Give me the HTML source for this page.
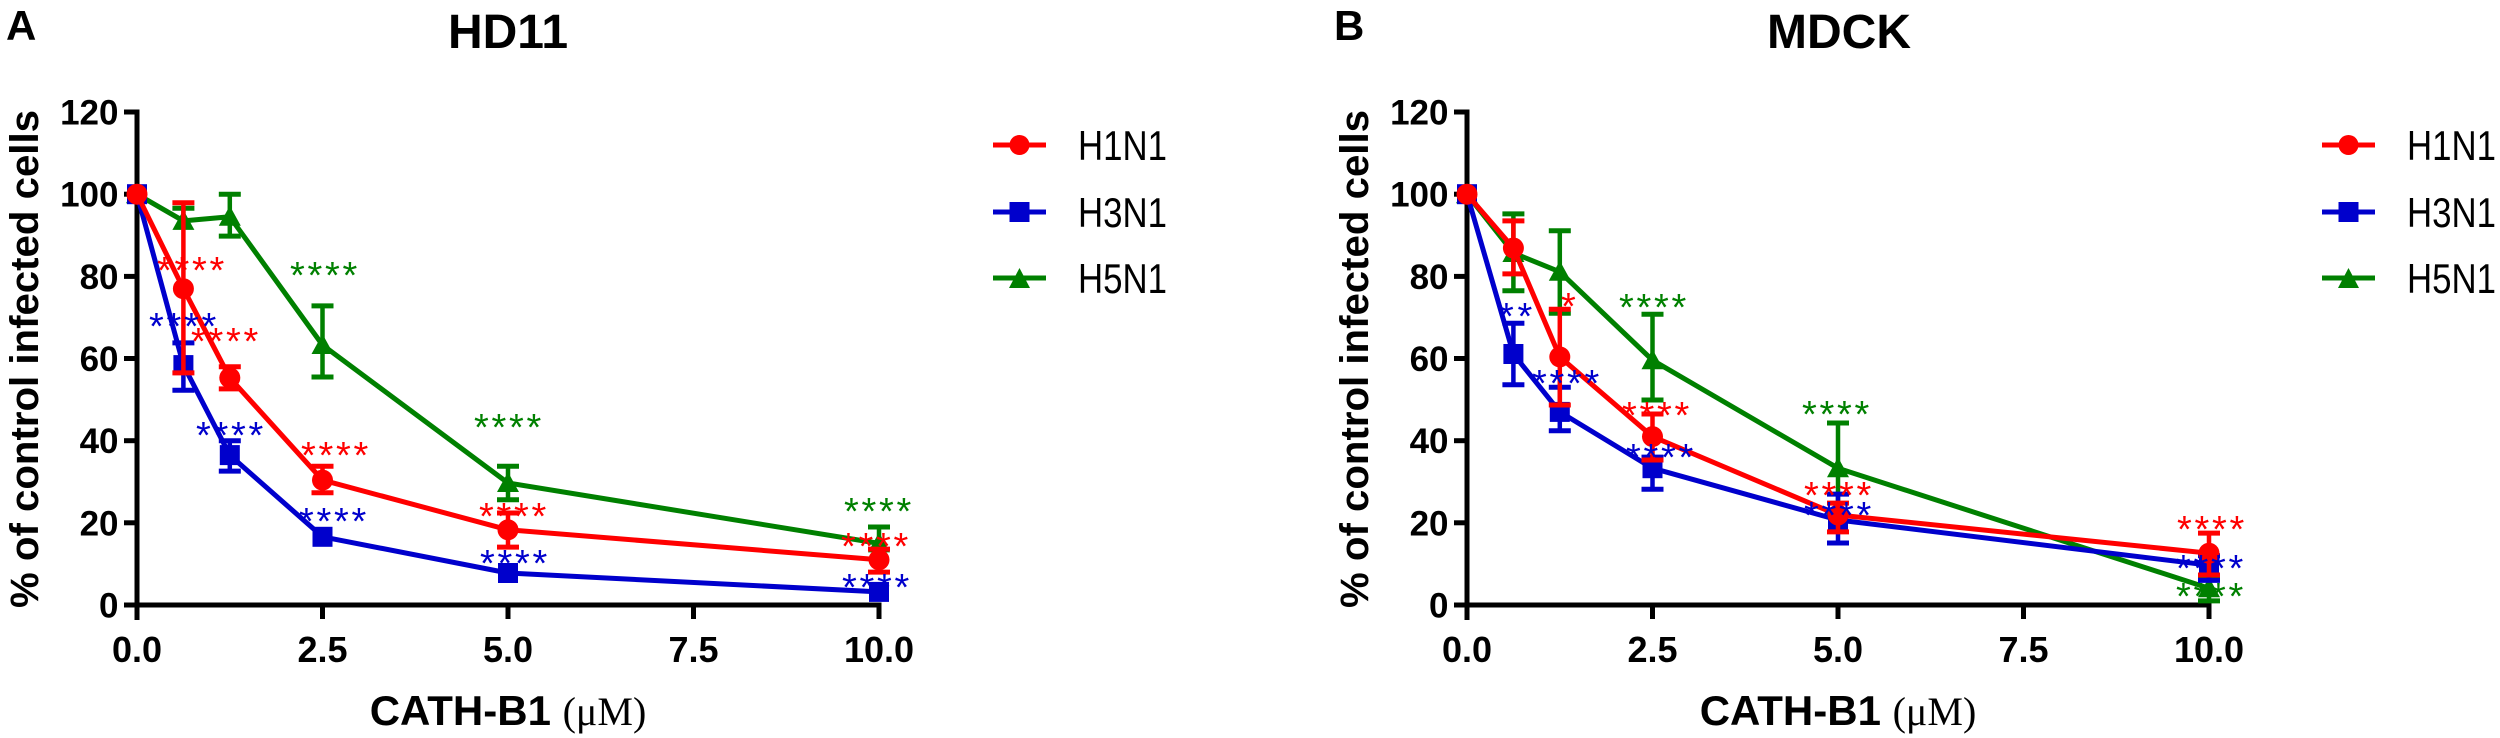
<!DOCTYPE html>
<html>
<head>
<meta charset="utf-8">
<style>
  html, body { margin: 0; padding: 0; background: #ffffff; }
  svg { display: block; }
  .tl { font-family: "Liberation Sans", Arial, sans-serif; font-weight: bold; font-size: 35px; fill: #000; }
  .xl { font-family: "Liberation Sans", Arial, sans-serif; font-weight: bold; font-size: 36px; fill: #000; }
  .ast { font-family: "Liberation Sans", Arial, sans-serif; font-size: 38px; letter-spacing: 2.7px; }
  .leg { font-family: "Liberation Sans", Arial, sans-serif; font-size: 42px; fill: #000; }
  .ttl { font-family: "Liberation Sans", Arial, sans-serif; font-weight: bold; font-size: 48px; fill: #000; }
  .pl { font-family: "Liberation Sans", Arial, sans-serif; font-weight: bold; font-size: 42px; fill: #000; }
  .yt { font-family: "Liberation Sans", Arial, sans-serif; font-weight: bold; font-size: 40px; fill: #000; }
</style>
</head>
<body>
<svg width="2500" height="738" viewBox="0 0 2500 738" xmlns="http://www.w3.org/2000/svg">
<rect x="0" y="0" width="2500" height="738" fill="#ffffff"/>

<!-- ================= PANEL A ================= -->
<text class="pl" x="6" y="40">A</text>
<text class="ttl" x="508" y="48" text-anchor="middle">HD11</text>

<!-- axes -->
<g stroke="#000" stroke-width="5" fill="none">
  <line x1="137" y1="109.5" x2="137" y2="620"/>
  <line x1="124" y1="605" x2="881.5" y2="605"/>
  <line x1="124" y1="522.8" x2="137" y2="522.8"/>
  <line x1="124" y1="440.7" x2="137" y2="440.7"/>
  <line x1="124" y1="358.5" x2="137" y2="358.5"/>
  <line x1="124" y1="276.4" x2="137" y2="276.4"/>
  <line x1="124" y1="194.2" x2="137" y2="194.2"/>
  <line x1="124" y1="112" x2="137" y2="112"/>
  <line x1="322.5" y1="605" x2="322.5" y2="619"/>
  <line x1="508" y1="605" x2="508" y2="619"/>
  <line x1="693.5" y1="605" x2="693.5" y2="619"/>
  <line x1="879" y1="605" x2="879" y2="619"/>
</g>
<g class="tl" text-anchor="end">
  <text x="118.5" y="617.5">0</text>
  <text x="118.5" y="535.3">20</text>
  <text x="118.5" y="453.2">40</text>
  <text x="118.5" y="371">60</text>
  <text x="118.5" y="288.9">80</text>
  <text x="118.5" y="206.7">100</text>
  <text x="118.5" y="124.5">120</text>
</g>
<g class="xl" text-anchor="middle">
  <text x="137" y="662">0.0</text>
  <text x="322.5" y="662">2.5</text>
  <text x="508" y="662">5.0</text>
  <text x="693.5" y="662">7.5</text>
  <text x="879" y="662">10.0</text>
</g>
<text x="508" y="725" text-anchor="middle"><tspan font-family="Liberation Sans, Arial, sans-serif" font-weight="bold" font-size="42">CATH-B1 </tspan><tspan font-family="Liberation Serif, Times New Roman, serif" font-size="40">(μM)</tspan></text>
<text class="yt" transform="translate(38,359) rotate(-90)" text-anchor="middle" textLength="498" lengthAdjust="spacingAndGlyphs">% of control infected cells</text>

<!-- green H5N1 -->
<g stroke="#008000" fill="none" stroke-width="5">
  <polyline stroke-linejoin="round" points="137,194.2 183.4,220.9 229.8,216.8 322.5,345 508,483 879,543.4"/>
  <path stroke-width="4.5" d="M183.4,229.1V208.2 M229.8,236.1V194.2 M322.5,377V305.9 M508,499.8V466.2 M879,559.8V527"/>
  <path d="M172.4,208.2h22 M218.8,236.1h22 M218.8,194.2h22 M311.5,377h22 M311.5,305.9h22 M497,499.8h22 M497,466.2h22 M868,527h22"/>
</g>
<g fill="#008000">
  <polygon points="137,183.2 126,203.2 148,203.2"/>
  <polygon points="183.4,209.9 172.4,229.9 194.4,229.9"/>
  <polygon points="229.8,205.8 218.8,225.8 240.8,225.8"/>
  <polygon points="322.5,334 311.5,354 333.5,354"/>
  <polygon points="508,472 497,492 519,492"/>
  <polygon points="879,532.4 868,552.4 890,552.4"/>
</g>

<!-- blue H3N1 -->
<g stroke="#0000CC" fill="none" stroke-width="5">
  <polyline stroke-linejoin="round" points="137,194.2 183.4,365.1 229.8,455.1 322.5,536.8 508,573 879,591.9"/>
  <path stroke-width="4.5" d="M183.4,390.2V342.9 M229.8,471.1V440.7"/>
  <path d="M172.4,390.2h22 M172.4,342.9h22 M218.8,471.1h22 M218.8,440.7h22"/>
</g>
<g fill="#0000CC">
  <rect x="127" y="184.2" width="20" height="20"/>
  <rect x="173.4" y="355.1" width="20" height="20"/>
  <rect x="219.8" y="445.1" width="20" height="20"/>
  <rect x="312.5" y="526.8" width="20" height="20"/>
  <rect x="498" y="563" width="20" height="20"/>
  <rect x="869" y="581.9" width="20" height="20"/>
</g>

<!-- red H1N1 -->
<g stroke="#FF0000" fill="none" stroke-width="5">
  <polyline stroke-linejoin="round" points="137,194.2 183.4,288.7 229.8,377.8 322.5,480.1 508,529.8 879,559.8"/>
  <path stroke-width="4.5" d="M183.4,372.9V202.8 M229.8,388.9V366.7 M322.5,492.8V466.2 M508,547.1V513 M879,572.1V549.1"/>
  <path d="M172.4,372.9h22 M172.4,202.8h22 M218.8,388.9h22 M218.8,366.7h22 M311.5,492.8h22 M311.5,466.2h22 M497,547.1h22 M497,513h22 M868,572.1h22 M868,549.1h22"/>
</g>
<g fill="#FF0000">
  <circle cx="137" cy="194.2" r="10.5"/>
  <circle cx="183.4" cy="288.7" r="10.5"/>
  <circle cx="229.8" cy="377.8" r="10.5"/>
  <circle cx="322.5" cy="480.1" r="10.5"/>
  <circle cx="508" cy="529.8" r="10.5"/>
  <circle cx="879" cy="559.8" r="10.5"/>
</g>

<!-- significance A -->
<g class="ast">
  <text x="157" y="283" fill="#FF0000">****</text>
  <text x="290" y="288" fill="#008000">****</text>
  <text x="149" y="339" fill="#0000CC">****</text>
  <text x="191" y="354" fill="#FF0000">****</text>
  <text x="196" y="448" fill="#0000CC">****</text>
  <text x="301" y="468" fill="#FF0000">****</text>
  <text x="474" y="440" fill="#008000">****</text>
  <text x="299" y="534" fill="#0000CC">****</text>
  <text x="479" y="529" fill="#FF0000">****</text>
  <text x="480" y="576" fill="#0000CC">****</text>
  <text x="844" y="524" fill="#008000">****</text>
  <text x="841" y="559" fill="#FF0000">****</text>
  <text x="842" y="600" fill="#0000CC">****</text>
</g>

<!-- legend A -->
<g stroke-width="5">
  <line x1="993" y1="145" x2="1046" y2="145" stroke="#FF0000"/>
  <line x1="993" y1="212" x2="1046" y2="212" stroke="#0000CC"/>
  <line x1="993" y1="278" x2="1046" y2="278" stroke="#008000"/>
</g>
<circle cx="1019.5" cy="145" r="10" fill="#FF0000"/>
<rect x="1009.5" y="202" width="20" height="20" fill="#0000CC"/>
<polygon points="1019.5,268 1009,288 1030,288" fill="#008000"/>
<text class="leg" x="1078" y="160" textLength="89" lengthAdjust="spacingAndGlyphs">H1N1</text>
<text class="leg" x="1078" y="227" textLength="89" lengthAdjust="spacingAndGlyphs">H3N1</text>
<text class="leg" x="1078" y="293" textLength="89" lengthAdjust="spacingAndGlyphs">H5N1</text>

<!-- ================= PANEL B ================= -->
<text class="pl" x="1334" y="40">B</text>
<text class="ttl" x="1839" y="48" text-anchor="middle">MDCK</text>

<g stroke="#000" stroke-width="5" fill="none">
  <line x1="1467" y1="109.5" x2="1467" y2="620"/>
  <line x1="1454" y1="605" x2="2211.5" y2="605"/>
  <line x1="1454" y1="522.8" x2="1467" y2="522.8"/>
  <line x1="1454" y1="440.7" x2="1467" y2="440.7"/>
  <line x1="1454" y1="358.5" x2="1467" y2="358.5"/>
  <line x1="1454" y1="276.4" x2="1467" y2="276.4"/>
  <line x1="1454" y1="194.2" x2="1467" y2="194.2"/>
  <line x1="1454" y1="112" x2="1467" y2="112"/>
  <line x1="1652.5" y1="605" x2="1652.5" y2="619"/>
  <line x1="1838" y1="605" x2="1838" y2="619"/>
  <line x1="2023.5" y1="605" x2="2023.5" y2="619"/>
  <line x1="2209" y1="605" x2="2209" y2="619"/>
</g>
<g class="tl" text-anchor="end">
  <text x="1448.5" y="617.5">0</text>
  <text x="1448.5" y="535.3">20</text>
  <text x="1448.5" y="453.2">40</text>
  <text x="1448.5" y="371">60</text>
  <text x="1448.5" y="288.9">80</text>
  <text x="1448.5" y="206.7">100</text>
  <text x="1448.5" y="124.5">120</text>
</g>
<g class="xl" text-anchor="middle">
  <text x="1467" y="662">0.0</text>
  <text x="1652.5" y="662">2.5</text>
  <text x="1838" y="662">5.0</text>
  <text x="2023.5" y="662">7.5</text>
  <text x="2209" y="662">10.0</text>
</g>
<text x="1838" y="725" text-anchor="middle"><tspan font-family="Liberation Sans, Arial, sans-serif" font-weight="bold" font-size="42">CATH-B1 </tspan><tspan font-family="Liberation Serif, Times New Roman, serif" font-size="40">(μM)</tspan></text>
<text class="yt" transform="translate(1368,359) rotate(-90)" text-anchor="middle" textLength="498" lengthAdjust="spacingAndGlyphs">% of control infected cells</text>

<!-- green H5N1 -->
<g stroke="#008000" fill="none" stroke-width="5">
  <polyline stroke-linejoin="round" points="1467,194.2 1513.4,253 1559.8,271.8 1652.5,360.2 1838,468.2 2209,588.2"/>
  <path stroke-width="4.5" d="M1513.4,290.7V213.9 M1559.8,313.3V230.8 M1652.5,400V314.2 M1838,513.4V423 M2209,600.9V578.3"/>
  <path d="M1502.4,290.7h22 M1502.4,213.9h22 M1548.8,313.3h22 M1548.8,230.8h22 M1641.5,400h22 M1641.5,314.2h22 M1827,513.4h22 M1827,423h22 M2198,600.9h22 M2198,578.3h22"/>
</g>
<g fill="#008000">
  <polygon points="1467,183.2 1456,203.2 1478,203.2"/>
  <polygon points="1513.4,242 1502.4,262 1524.4,262"/>
  <polygon points="1559.8,260.8 1548.8,280.8 1570.8,280.8"/>
  <polygon points="1652.5,349.2 1641.5,369.2 1663.5,369.2"/>
  <polygon points="1838,457.2 1827,477.2 1849,477.2"/>
  <polygon points="2209,577.2 2198,597.2 2220,597.2"/>
</g>

<!-- blue H3N1 -->
<g stroke="#0000CC" fill="none" stroke-width="5">
  <polyline stroke-linejoin="round" points="1467,194.2 1513.4,354 1559.8,411.9 1652.5,468.2 1838,520 2209,565.2"/>
  <path stroke-width="4.5" d="M1513.4,384.8V323.2 M1559.8,430.8V387.3 M1652.5,489.2V457.1 M1838,543V494.1 M2209,580.4V555.7"/>
  <path d="M1502.4,384.8h22 M1502.4,323.2h22 M1548.8,430.8h22 M1548.8,387.3h22 M1641.5,489.2h22 M1641.5,457.1h22 M1827,543h22 M1827,494.1h22 M2198,580.4h22 M2198,555.7h22"/>
</g>
<g fill="#0000CC">
  <rect x="1457" y="184.2" width="20" height="20"/>
  <rect x="1503.4" y="344" width="20" height="20"/>
  <rect x="1549.8" y="401.9" width="20" height="20"/>
  <rect x="1642.5" y="458.2" width="20" height="20"/>
  <rect x="1828" y="510" width="20" height="20"/>
  <rect x="2199" y="555.2" width="20" height="20"/>
</g>

<!-- red H1N1 -->
<g stroke="#FF0000" fill="none" stroke-width="5">
  <polyline stroke-linejoin="round" points="1467,194.2 1513.4,248 1559.8,356.9 1652.5,436.6 1838,515 2209,553.2"/>
  <path stroke-width="4.5" d="M1513.4,273.9V220.9 M1559.8,405V309.2 M1652.5,460V414 M1838,531.9V503.1 M2209,575V533.1"/>
  <path d="M1502.4,273.9h22 M1502.4,220.9h22 M1548.8,405h22 M1548.8,309.2h22 M1641.5,460h22 M1641.5,414h22 M1827,531.9h22 M1827,503.1h22 M2198,575h22 M2198,533.1h22"/>
</g>
<g fill="#FF0000">
  <circle cx="1467" cy="194.2" r="10.5"/>
  <circle cx="1513.4" cy="248" r="10.5"/>
  <circle cx="1559.8" cy="356.9" r="10.5"/>
  <circle cx="1652.5" cy="436.6" r="10.5"/>
  <circle cx="1838" cy="515" r="10.5"/>
  <circle cx="2209" cy="553.2" r="10.5"/>
</g>

<!-- significance B -->
<g class="ast">
  <text x="1499" y="329" fill="#0000CC" letter-spacing="3.7">**</text>
  <text x="1561" y="319" fill="#FF0000">*</text>
  <text x="1619" y="320" fill="#008000">****</text>
  <text x="1532" y="396" fill="#0000CC">****</text>
  <text x="1622" y="428" fill="#FF0000">****</text>
  <text x="1626" y="470" fill="#0000CC">****</text>
  <text x="1802" y="427" fill="#008000">****</text>
  <text x="1804" y="508" fill="#FF0000">****</text>
  <text x="1804" y="528" fill="#0000CC">****</text>
  <text x="2177" y="542" fill="#FF0000">****</text>
  <text x="2176" y="581" fill="#0000CC">****</text>
  <text x="2176" y="609" fill="#008000">****</text>
</g>

<!-- legend B -->
<g stroke-width="5">
  <line x1="2322" y1="145" x2="2375" y2="145" stroke="#FF0000"/>
  <line x1="2322" y1="212" x2="2375" y2="212" stroke="#0000CC"/>
  <line x1="2322" y1="278" x2="2375" y2="278" stroke="#008000"/>
</g>
<circle cx="2348.5" cy="145" r="10" fill="#FF0000"/>
<rect x="2338.5" y="202" width="20" height="20" fill="#0000CC"/>
<polygon points="2348.5,268 2338,288 2359,288" fill="#008000"/>
<text class="leg" x="2407" y="160" textLength="89" lengthAdjust="spacingAndGlyphs">H1N1</text>
<text class="leg" x="2407" y="227" textLength="89" lengthAdjust="spacingAndGlyphs">H3N1</text>
<text class="leg" x="2407" y="293" textLength="89" lengthAdjust="spacingAndGlyphs">H5N1</text>

</svg>
</body>
</html>
